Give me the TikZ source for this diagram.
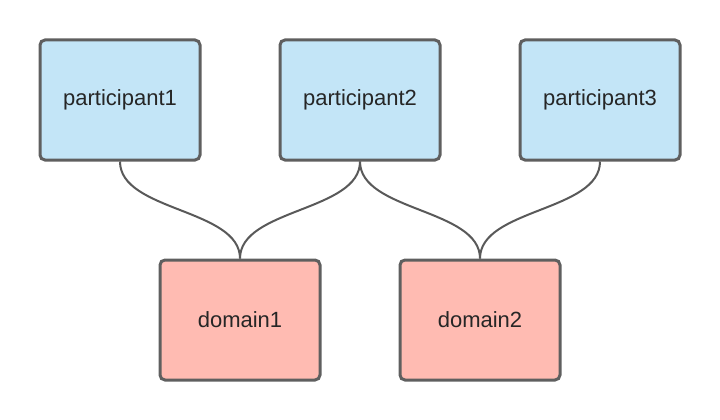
\documentclass[tikz,border=0pt]{standalone}
\usepackage{fontspec}
\setmainfont{Liberation Sans}
\definecolor{partfill}{HTML}{C3E5F7}
\definecolor{domfill}{HTML}{FFBBB2}
\definecolor{boxline}{HTML}{5F5F5F}
\definecolor{linkline}{HTML}{595959}

\begin{document}
\begin{tikzpicture}
[ x=1pt, y=-1pt
, box/.style={rectangle, minimum width=160pt, minimum height=120pt, rounded corners=5pt, draw=boxline, line width=3pt, font=\fontsize{22}{26}\selectfont, text=black!85}
, participant/.style={box, fill=partfill}
, domainbox/.style={box, fill=domfill}
, link/.style={draw=linkline, line width=2pt}
]
\useasboundingbox (0,0) rectangle (720,420);
% Top row:
\node (p1) [participant] at (120,100) {participant1};
\node (p2) [participant] at (360,100) {participant2};
\node (p3) [participant] at (600,100) {participant3};
% Bottom row:
\node (d1) [domainbox] at (240,320) {domain1};
\node (d2) [domainbox] at (480,320) {domain2};
\draw [link] (p1.south) .. controls +(0,50) and +(0,-50) .. (d1.north);
\draw [link] (p2.south) .. controls +(0,50) and +(0,-50) .. (d1.north);
\draw [link] (p2.south) .. controls +(0,50) and +(0,-50) .. (d2.north);
\draw [link] (p3.south) .. controls +(0,50) and +(0,-50) .. (d2.north);
\end{tikzpicture}
\end{document}
